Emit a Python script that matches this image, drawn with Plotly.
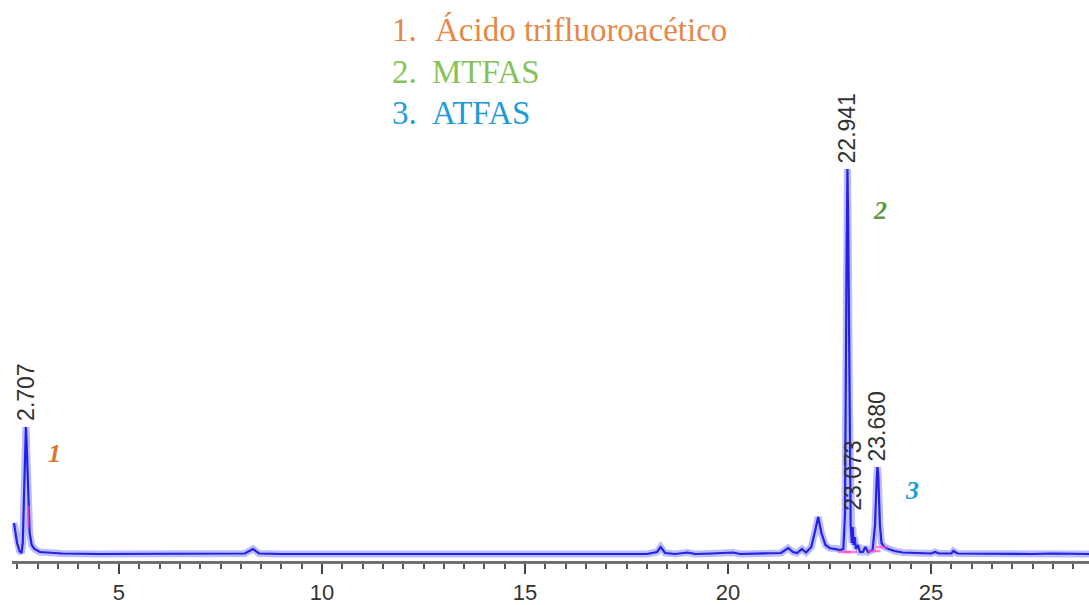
import plotly.graph_objects as go

# Retention time (min) and detector signal (arbitrary units)
time_min = [2.414, 2.45, 2.49, 2.55, 2.60, 2.63, 2.66, 2.69, 2.707, 2.72, 2.74, 2.77, 2.80, 2.85, 2.92,
            3.05, 3.3, 3.6, 4.5, 6.0, 7.0, 7.6, 8.1, 8.3, 8.45, 9.0, 12.0, 15.0, 18.0, 18.25, 18.34,
            18.45, 18.7, 19.0, 19.2, 19.6, 20.12, 20.3, 21.0, 21.3, 21.48, 21.6, 21.7, 21.82, 21.92,
            22.05, 22.15, 22.22, 22.3, 22.4, 22.5, 22.65, 22.76, 22.84, 22.88, 22.92, 22.941, 22.96,
            22.99, 23.02, 23.05, 23.073, 23.09, 23.12, 23.15, 23.2, 23.25, 23.32, 23.38, 23.45, 23.56,
            23.62, 23.66, 23.68, 23.70, 23.74, 23.78, 23.85, 23.95, 24.1, 24.3, 24.6, 25.0, 25.1,
            25.2, 25.5, 25.55, 25.65, 26.5, 27.5, 28.0, 28.9]
signal = [32, 22, 12, 4, 2, 12, 60, 110, 128, 118, 90, 50, 22, 10, 6,
          3, 2, 1.5, 1, 1, 0.8, 1.5, 1.5, 6, 1.5, 1, 0.8, 0.8, 1, 3, 8,
          2, 1, 2.5, 1, 1.5, 2.5, 1, 1.5, 2, 7, 3, 2, 6, 2.5,
          8, 25, 38, 22, 10, 7, 6, 5, 6, 40, 300, 386, 330,
          150, 30, 12, 28, 10, 18, 6, 10, 3, 3, 8, 3, 5,
          30, 75, 88, 80, 30, 12, 8, 6, 4, 2.5, 2, 1.5, 3,
          1.5, 1.5, 4, 1.5, 1, 1, 1.5, 1]

# Labelled peaks
peak_times = [2.707, 22.941, 23.073, 23.680]
peak_heights = [128, 386, 38, 88]
peak_labels = ["2.707", "22.941", "23.073", "23.680"]

# Integration marks
mark_times = [2.765, 22.86, 23.03, 23.60, 23.79]
mark_heights = [38, 3, 3, 4, 8]

# Compound numbering near the peaks
cmp_numbers = ["1", "2", "3"]
cmp_times = [3.42, 23.74, 24.53]
cmp_heights = [102, 345, 65]
cmp_colors = ["#D9772F", "#5E9A3C", "#1A9FD0"]

# Legend
legend_numbers = ["1.", "2.", "3."]
legend_names = ["Ácido trifluoroacético", "MTFAS", "ATFAS"]
legend_colors = ["#E58848", "#86C25A", "#1F9CD6"]

x_ticks = [5, 10, 15, 20, 25]

fig = go.Figure()
fig.add_trace(go.Scatter(x=time_min, y=signal, mode="lines",
                         line=dict(color="rgba(135,135,245,0.55)", width=7),
                         hoverinfo="skip", showlegend=False))
fig.add_trace(go.Scatter(x=time_min, y=signal, mode="lines",
                         line=dict(color="#2222E6", width=2.2), showlegend=False))
fig.add_trace(go.Scatter(x=mark_times, y=mark_heights, mode="markers",
                         marker=dict(symbol=["line-ns-open"] + ["line-ew-open"] * 4, size=[16, 9, 9, 9, 9],
                                     color="#FF44CC",
                                     line=dict(color="#FF44CC", width=2.5)),
                         showlegend=False))

ann = []
for t, h, lab in zip(peak_times, peak_heights, peak_labels):
    ann.append(dict(x=t, y=h, xref="x", yref="y", text=lab, textangle=-90, showarrow=False,
                    xanchor="center", yanchor="bottom", yshift=4,
                    font=dict(family="Liberation Sans, Arial", size=23, color="#333333")))
for n, t, h, c in zip(cmp_numbers, cmp_times, cmp_heights, cmp_colors):
    ann.append(dict(x=t, y=h, xref="x", yref="y", text="<b><i>" + n + "</i></b>", showarrow=False,
                    xanchor="center", yanchor="middle",
                    font=dict(family="Liberation Serif, Times New Roman", size=26, color=c)))

W, H = 1089, 605
L, B = 12, 44
pw, ph = W - L, H - B
legend_rows_y = [30, 72, 113]
name_x = [433, 430, 430]
for num, name, c, py, nx in zip(legend_numbers, legend_names, legend_colors, legend_rows_y, name_x):
    ann.append(dict(x=(390 - L) / pw, y=(ph - py) / ph, xref="paper", yref="paper", text=num,
                    showarrow=False, xanchor="left", yanchor="middle",
                    font=dict(family="Liberation Serif, Times New Roman", size=33, color=c)))
    ann.append(dict(x=(nx - L) / pw, y=(ph - py) / ph, xref="paper", yref="paper", text=name,
                    showarrow=False, xanchor="left", yanchor="middle",
                    font=dict(family="Liberation Serif, Times New Roman", size=33, color=c)))

fig.update_layout(
    width=W, height=H,
    margin=dict(l=L, r=0, t=0, b=B),
    paper_bgcolor="white", plot_bgcolor="white",
    annotations=ann,
    xaxis=dict(range=[2.365, 28.89], tickvals=x_ticks, ticktext=[str(v) for v in x_ticks],
               ticks="outside", ticklen=10, tickwidth=2, tickcolor="#444444",
               showline=True, linecolor="#707070", linewidth=3,
               showgrid=False, zeroline=False,
               tickfont=dict(family="Liberation Sans, Arial", size=22, color="#333333"),
               minor=dict(dtick=0.5, tick0=0, ticks="outside", ticklen=5, tickwidth=1.5,
                          tickcolor="#555555", showgrid=False)),
    yaxis=dict(range=[-6, 555], visible=False, showgrid=False, zeroline=False),
)

fig.write_html("out.html")
